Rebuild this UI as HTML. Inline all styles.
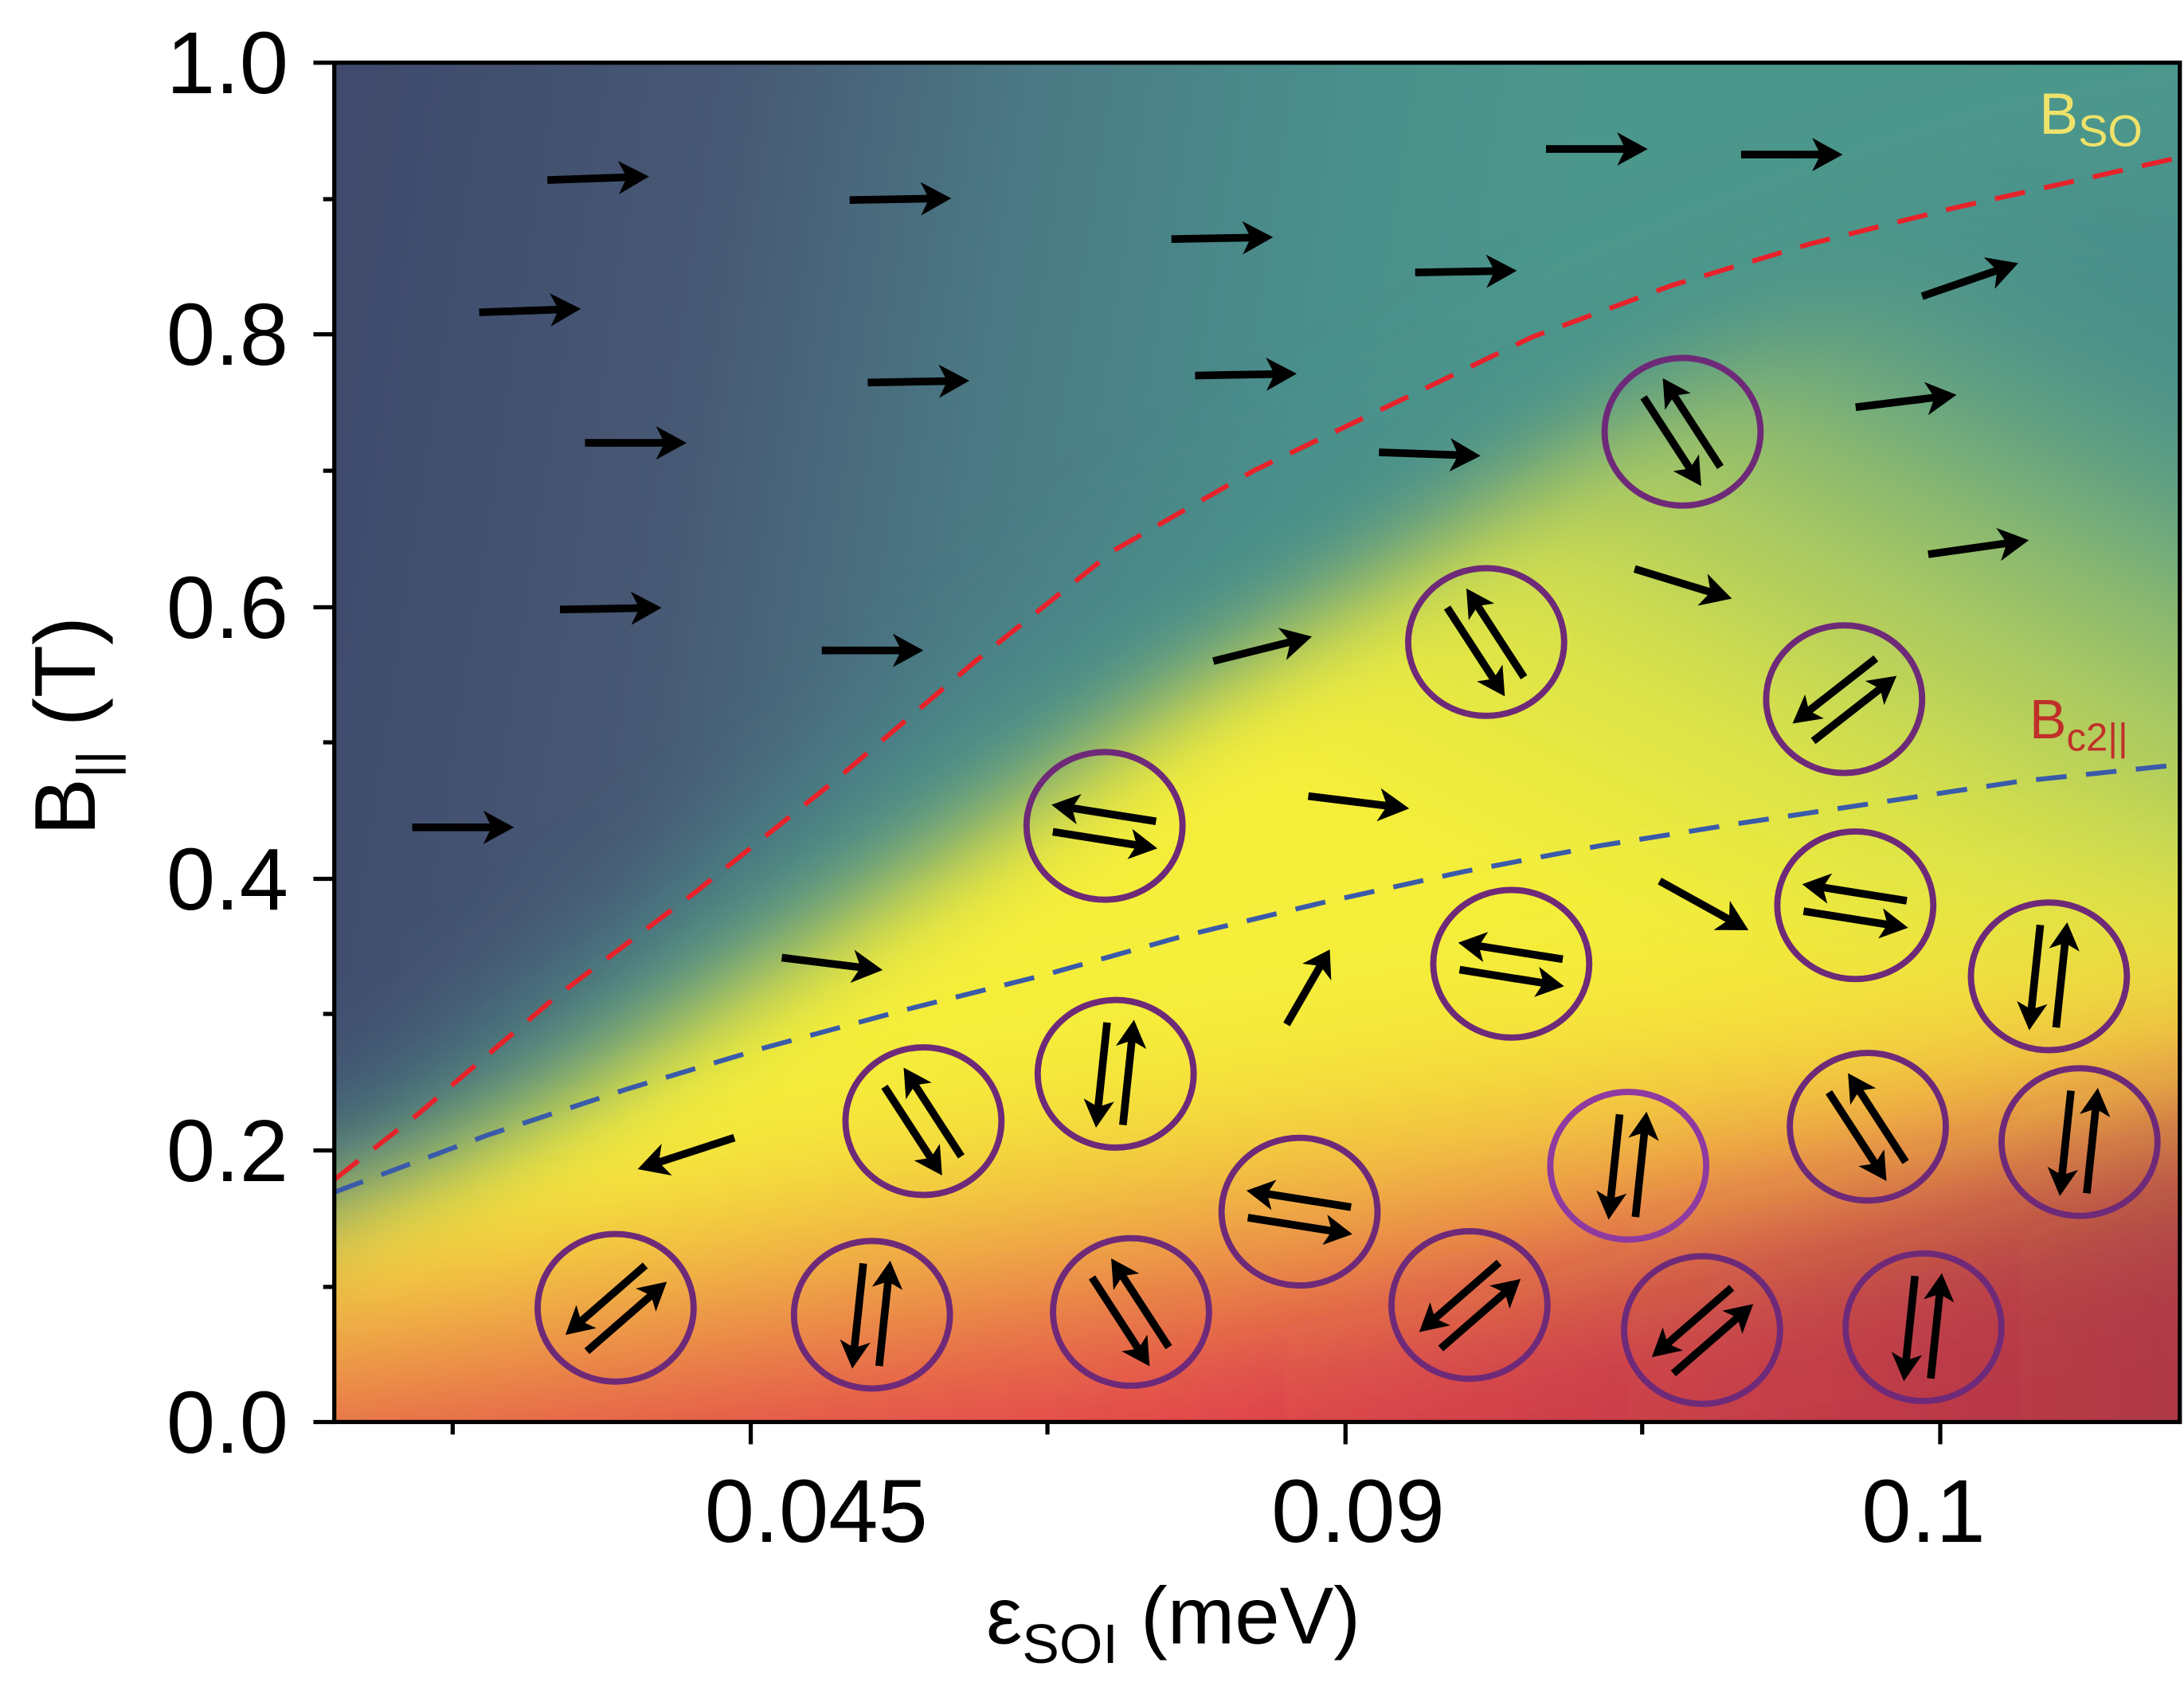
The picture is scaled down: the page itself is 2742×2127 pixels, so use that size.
<!DOCTYPE html>
<html><head><meta charset="utf-8"><style>html,body{margin:0;padding:0;background:#fff}svg{display:block}</style></head>
<body>
<svg width="2742" height="2127" viewBox="0 0 1568 1216.3" preserveAspectRatio="none" xmlns="http://www.w3.org/2000/svg" font-family="Liberation Sans, Arial, sans-serif">
<defs>
<linearGradient id="top" x1="240" y1="200" x2="1100" y2="330" gradientUnits="userSpaceOnUse">
<stop offset="0" stop-color="#3f4a6c"/><stop offset="0.3" stop-color="#475874"/><stop offset="0.55" stop-color="#4b7a84"/><stop offset="0.8" stop-color="#4a8f8b"/><stop offset="1" stop-color="#4c978c"/></linearGradient>
<linearGradient id="teal" x1="0" y1="0" x2="1" y2="0">
<stop offset="0" stop-color="#4a8f8b"/><stop offset="1" stop-color="#4a8f8b"/></linearGradient>
<linearGradient id="yel" x1="1400" y1="150" x2="1150" y2="650" gradientUnits="userSpaceOnUse">
<stop offset="0" stop-color="#4f9a8c" stop-opacity="0"/><stop offset="0.35" stop-color="#8ebb6e"/><stop offset="0.7" stop-color="#d9e24a"/><stop offset="1" stop-color="#f5ee3a"/></linearGradient>
<linearGradient id="low" x1="760" y1="720" x2="800" y2="1021" gradientUnits="userSpaceOnUse">
<stop offset="0" stop-color="#f4ec3a" stop-opacity="0"/><stop offset="0.3" stop-color="#f6d83a" stop-opacity="0.7"/><stop offset="0.6" stop-color="#ee9a4a"/><stop offset="0.85" stop-color="#e45a4a"/><stop offset="1" stop-color="#e4434b"/></linearGradient>
<linearGradient id="dark" x1="800" y1="0" x2="1565" y2="0" gradientUnits="userSpaceOnUse">
<stop offset="0" stop-color="#7a2f45" stop-opacity="0"/><stop offset="1" stop-color="#6e2c40" stop-opacity="0.45"/></linearGradient>
<filter id="bl" filterUnits="userSpaceOnUse" x="0" y="-200" width="1800" height="1500"><feGaussianBlur stdDeviation="35"/></filter>
<filter id="blt" filterUnits="userSpaceOnUse" x="0" y="-200" width="1800" height="1500"><feGaussianBlur stdDeviation="45"/></filter>
<filter id="bl2" filterUnits="userSpaceOnUse" x="0" y="0" width="1800" height="1500"><feGaussianBlur stdDeviation="45"/></filter>
<clipPath id="cp"><rect x="240" y="45" width="1325" height="976"/></clipPath>
<g id="pair">
<line x1="36" y1="-9" x2="-26" y2="-9" stroke="#000" stroke-width="5.5"/>
<path d="M-40,-9 L-20,-20 L-25,-9 L-20,2 Z" fill="#000"/>
<line x1="-36" y1="10" x2="26" y2="10" stroke="#000" stroke-width="5.5"/>
<path d="M40,10 L20,-1 L25,10 L20,21 Z" fill="#000"/>
</g>
<g id="ar">
<line x1="-36" y1="0" x2="24" y2="0" stroke="#000" stroke-width="5.5"/>
<path d="M37,0 L15,-12 L21,0 L15,12 Z" fill="#000"/>
</g>
</defs>
<g clip-path="url(#cp)">
<rect x="240" y="45" width="1325" height="976" fill="url(#top)"/>
<path d="M150,860 L300,790 L420,700 L560,600 L700,500 L850,410 L1000,330 L1150,260 L1300,200 L1450,150 L1700,110 L1700,1100 L150,1100 Z" fill="#4a8f8b" filter="url(#blt)"/>
<path d="M200,900 L300,850 L420,780 L560,690 L700,600 L850,500 L1000,410 L1150,310 L1300,220 L1450,160 L1700,120 L1700,1200 L200,1200 Z" fill="url(#yel)" filter="url(#bl)"/>
<path d="M100,1200 L100,900 L400,870 L700,800 L1000,740 L1300,660 L1700,610 L1700,1200 Z" fill="url(#low)" filter="url(#bl2)"/>
<path d="M800,1200 L800,980 L1100,920 L1700,780 L1700,1200 Z" fill="url(#dark)" filter="url(#bl2)"/>
<path d="M240,847 L300,800 L400,715 L500,640 L600,560 L700,475 L800,395 L900,338 L1000,290 L1100,242 L1200,205 L1300,175 L1400,150 L1565,113" fill="none" stroke="#e8222a" stroke-width="3.5" stroke-dasharray="22,14"/>
<path d="M240,856 L350,815 L450,782 L550,752 L650,725 L750,700 L850,672 L950,648 L1050,626 L1150,607 L1250,591 L1350,576 L1450,561 L1565,549" fill="none" stroke="#3a5aaa" stroke-width="3.5" stroke-dasharray="22,14"/>
</g>
<use href="#ar" transform="translate(429,128) rotate(-2)"/>
<use href="#ar" transform="translate(646,143) rotate(-1)"/>
<use href="#ar" transform="translate(877,171) rotate(-1)"/>
<use href="#ar" transform="translate(1146,107)"/>
<use href="#ar" transform="translate(1286,111)"/>
<use href="#ar" transform="translate(380,223) rotate(-2)"/>
<use href="#ar" transform="translate(1052,195) rotate(-1)"/>
<use href="#ar" transform="translate(1414,201) rotate(-19)"/>
<use href="#ar" transform="translate(659,274) rotate(-1)"/>
<use href="#ar" transform="translate(894,269) rotate(-1)"/>
<use href="#ar" transform="translate(456,318)"/>
<use href="#ar" transform="translate(1026,326) rotate(2)"/>
<use href="#ar" transform="translate(1368,288) rotate(-7)"/>
<use href="#ar" transform="translate(438,437) rotate(-1)"/>
<use href="#ar" transform="translate(626,467)"/>
<use href="#ar" transform="translate(906,466) rotate(-14)"/>
<use href="#ar" transform="translate(1208,419) rotate(17)"/>
<use href="#ar" transform="translate(1420,393) rotate(-8)"/>
<use href="#ar" transform="translate(332,594)"/>
<use href="#ar" transform="translate(975,576) rotate(7)"/>
<use href="#ar" transform="translate(597,692) rotate(7)"/>
<use href="#ar" transform="translate(1223,650) rotate(29)"/>
<use href="#ar" transform="translate(939,709) rotate(-60) scale(0.85,1)"/>
<use href="#ar" transform="translate(493,828) rotate(162)"/>
<g fill="none" stroke="#6e2a78" stroke-width="4.5">
<ellipse cx="1208" cy="310" rx="56" ry="53"/>
<ellipse cx="1067" cy="461" rx="56" ry="53"/>
<ellipse cx="1324" cy="502" rx="56" ry="53"/>
<ellipse cx="793" cy="593" rx="56" ry="53"/>
<ellipse cx="1332" cy="650" rx="56" ry="53"/>
<ellipse cx="1085" cy="692" rx="56" ry="53"/>
<ellipse cx="1471" cy="701" rx="56" ry="53"/>
<ellipse cx="663" cy="805" rx="56" ry="53"/>
<ellipse cx="801" cy="771" rx="56" ry="53"/>
<ellipse cx="1341" cy="809" rx="56" ry="53"/>
<ellipse cx="1493" cy="820" rx="56" ry="53"/>
<ellipse cx="1169" cy="837" rx="56" ry="53" stroke="#8e3aa0"/>
<ellipse cx="933" cy="870" rx="56" ry="53"/>
<ellipse cx="442" cy="939" rx="56" ry="53"/>
<ellipse cx="626" cy="944" rx="56" ry="53"/>
<ellipse cx="812" cy="942" rx="56" ry="53"/>
<ellipse cx="1055" cy="937" rx="56" ry="53"/>
<ellipse cx="1222" cy="955" rx="56" ry="53"/>
<ellipse cx="1381" cy="953" rx="56" ry="53"/>
</g>
<use href="#pair" transform="translate(1208,310) rotate(57)"/>
<use href="#pair" transform="translate(1067,461) rotate(57)"/>
<use href="#pair" transform="translate(1324,502) rotate(-38)"/>
<use href="#pair" transform="translate(793,593) rotate(9)"/>
<use href="#pair" transform="translate(1332,650) rotate(9)"/>
<use href="#pair" transform="translate(1085,692) rotate(9)"/>
<use href="#pair" transform="translate(1471,701) rotate(96)"/>
<use href="#pair" transform="translate(663,805) rotate(57)"/>
<use href="#pair" transform="translate(801,771) rotate(96)"/>
<use href="#pair" transform="translate(1341,809) rotate(57)"/>
<use href="#pair" transform="translate(1493,820) rotate(96)"/>
<use href="#pair" transform="translate(1169,837) rotate(96)"/>
<use href="#pair" transform="translate(933,870) rotate(9)"/>
<use href="#pair" transform="translate(442,939) rotate(-41)"/>
<use href="#pair" transform="translate(626,944) rotate(96)"/>
<use href="#pair" transform="translate(812,942) rotate(57)"/>
<use href="#pair" transform="translate(1055,937) rotate(-41)"/>
<use href="#pair" transform="translate(1222,955) rotate(-41)"/>
<use href="#pair" transform="translate(1381,953) rotate(96)"/>
<text x="1464" y="96" font-size="42" fill="#efe26a">B<tspan font-size="32" dy="9">SO</tspan></text>
<text x="1457" y="530" font-size="40" fill="#c0302a">B<tspan font-size="28" dy="9">c2||</tspan></text>
<rect x="240" y="45" width="1325" height="976" fill="none" stroke="#000" stroke-width="3"/>
<g stroke="#000" stroke-width="3">
<line x1="225" y1="45" x2="240" y2="45"/><line x1="225" y1="240" x2="240" y2="240"/><line x1="225" y1="436" x2="240" y2="436"/><line x1="225" y1="631" x2="240" y2="631"/><line x1="225" y1="826" x2="240" y2="826"/><line x1="225" y1="1021" x2="240" y2="1021"/>
<line x1="232" y1="143" x2="240" y2="143"/><line x1="232" y1="338" x2="240" y2="338"/><line x1="232" y1="533" x2="240" y2="533"/><line x1="232" y1="728" x2="240" y2="728"/><line x1="232" y1="924" x2="240" y2="924"/>
<line x1="539" y1="1021" x2="539" y2="1037"/><line x1="966" y1="1021" x2="966" y2="1037"/><line x1="1393" y1="1021" x2="1393" y2="1037"/>
<line x1="325" y1="1021" x2="325" y2="1030"/><line x1="752" y1="1021" x2="752" y2="1030"/><line x1="1179" y1="1021" x2="1179" y2="1030"/>
</g>
<g font-size="63" text-anchor="end" fill="#000">
<text x="207" y="67">1.0</text><text x="207" y="262">0.8</text><text x="207" y="458">0.6</text><text x="207" y="653">0.4</text><text x="207" y="848">0.2</text><text x="207" y="1043">0.0</text>
</g>
<g font-size="64" text-anchor="middle" fill="#000">
<text x="586" y="1107">0.045</text><text x="975" y="1107">0.09</text><text x="1381" y="1107">0.1</text>
</g>
<text x="708" y="1180" font-size="58" fill="#000">ε<tspan font-size="40" dy="14">SOI</tspan><tspan dy="-14"> (meV)</tspan></text>
<text transform="translate(68,600) rotate(-90)" font-size="62" fill="#000">B<tspan font-size="38" dy="14">||</tspan><tspan dy="-14"> (T)</tspan></text>
</svg>
</body></html>
